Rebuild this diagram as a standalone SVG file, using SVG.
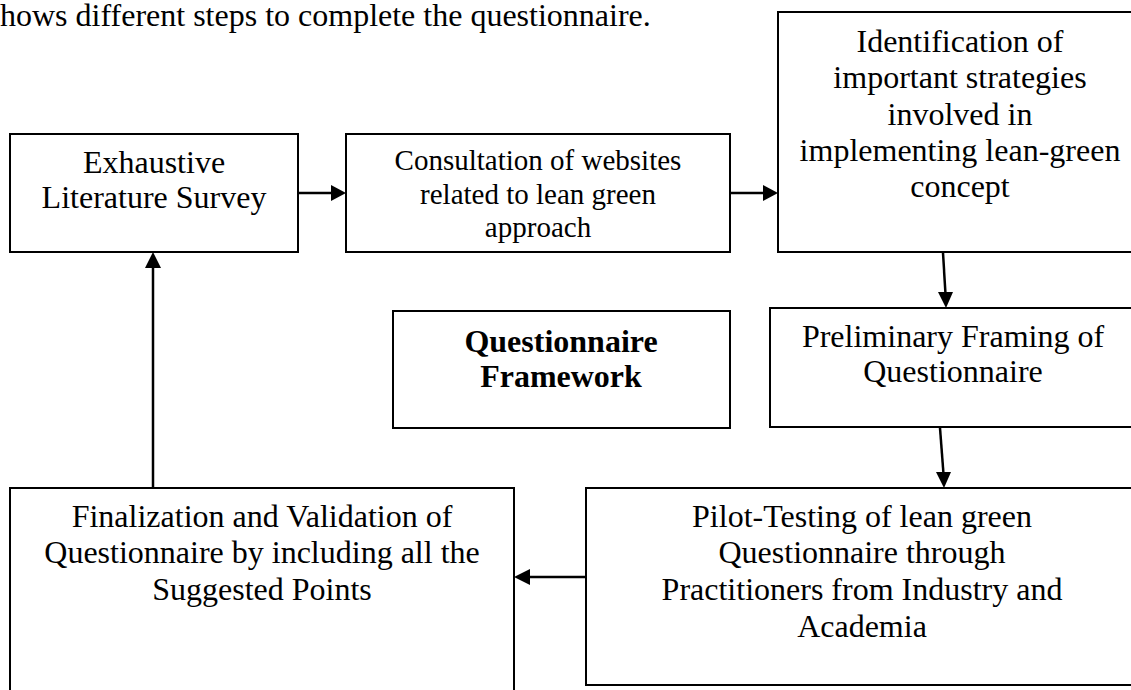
<svg xmlns="http://www.w3.org/2000/svg" width="1131" height="690" viewBox="0 0 1131 690">
<defs>
<style>
.box{fill:#fff;stroke:#000;stroke-width:2}
.t{font-family:"Liberation Serif","Times New Roman",serif;font-size:32px;fill:#000;text-anchor:middle}
.s{font-size:29px}
.b{font-weight:bold}
.c{stroke:#000;stroke-width:2.5;fill:none}
.h{fill:#000;stroke:none}
</style>
</defs>
<rect width="1131" height="690" fill="#fff"/>
<text x="0" y="26" font-family="Liberation Serif, serif" font-size="32" fill="#000">hows different steps to complete the questionnaire.</text>
<g id="n1">
<rect class="box" x="10" y="134" width="288" height="118"/>
<text class="t" x="154" y="173">Exhaustive</text>
<text class="t" x="154" y="208">Literature Survey</text>
</g>
<g id="n2">
<rect class="box" x="346" y="134" width="384" height="118"/>
<text class="t s" x="538" y="170">Consultation of websites</text>
<text class="t s" x="538" y="204">related to lean green</text>
<text class="t s" x="538" y="237">approach</text>
</g>
<g id="n3">
<rect class="box" x="778" y="12" width="365" height="240"/>
<text class="t" x="960" y="52">Identification of</text>
<text class="t" x="960" y="88">important strategies</text>
<text class="t" x="960" y="125">involved in</text>
<text class="t" x="960" y="161">implementing lean-green</text>
<text class="t" x="960" y="197">concept</text>
</g>
<g id="n4">
<rect class="box" x="770" y="308" width="370" height="119"/>
<text class="t" x="953" y="347">Preliminary Framing of</text>
<text class="t" x="953" y="382">Questionnaire</text>
</g>
<g id="n7">
<rect class="box" x="393" y="311" width="337" height="117"/>
<text class="t b" x="561" y="352">Questionnaire</text>
<text class="t b" x="561" y="387">Framework</text>
</g>
<g id="n5">
<rect class="box" x="586" y="488" width="560" height="197"/>
<text class="t" x="862" y="527">Pilot-Testing of lean green</text>
<text class="t" x="862" y="563">Questionnaire through</text>
<text class="t" x="862" y="600">Practitioners from Industry and</text>
<text class="t" x="862" y="637">Academia</text>
</g>
<g id="n6">
<rect class="box" x="10" y="488" width="504" height="215"/>
<text class="t" x="262" y="527">Finalization and Validation of</text>
<text class="t" x="262" y="563">Questionnaire by including all the</text>
<text class="t" x="262" y="600">Suggested Points</text>
</g>
<g id="connectors">
<line class="c" x1="298" y1="193" x2="332" y2="193"/>
<polygon class="h" points="331,185 346,193 331,201"/>
<line class="c" x1="730" y1="193" x2="764" y2="193"/>
<polygon class="h" points="763,185 778,193 763,201"/>
<line class="c" x1="943" y1="253" x2="945.5" y2="294"/>
<polygon class="h" points="938,292 953,292 946,308"/>
<line class="c" x1="940" y1="428" x2="943.5" y2="474"/>
<polygon class="h" points="936,472 951,472 944,488"/>
<line class="c" x1="586" y1="577" x2="528" y2="577"/>
<polygon class="h" points="530,569 514,577 530,585"/>
<line class="c" x1="153" y1="488" x2="153" y2="266"/>
<polygon class="h" points="145,268 153,252 161,268"/>
</g>
</svg>
